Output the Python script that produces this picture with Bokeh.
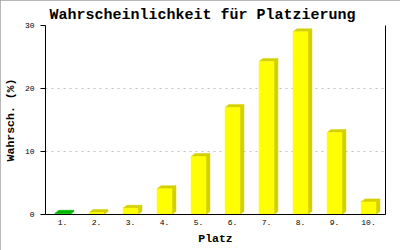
from bokeh.plotting import figure
from bokeh.models import Range1d, FixedTicker, LinearAxis, ColumnDataSource
from bokeh.embed import file_html
from bokeh.resources import INLINE

# ---- data ----
places = [1, 2, 3, 4, 5, 6, 7, 8, 9, 10]
place_labels = ["1.", "2.", "3.", "4.", "5.", "6.", "7.", "8.", "9.", "10."]
probabilities = [0.2, 0.3, 1.0, 4.1, 9.2, 17.0, 24.3, 29.0, 13.0, 2.0]
y_ticks = [0, 10, 20, 30]

title_text = "Wahrscheinlichkeit für Platzierung"
x_title = "Platz"
y_title = "Wahrsch. (%)"

# ---- style ----
W, H = 400, 250
FONT = "Liberation Mono"
bar_w = 0.44          # front face width (category units)
dx = 0.117            # depth offset x (category units ~4px)
dy = 0.476            # depth offset y (value units ~3px)
front_cols = ["#00cc00" if i == 0 else "#ffff00" for i in range(len(places))]
side_cols = ["#00b400" if i == 0 else "#d4d000" for i in range(len(places))]

p = figure(width=W, height=H, x_range=Range1d(0.5, 10.5), y_range=Range1d(0, 30),
           output_backend="svg", toolbar_location=None,
           min_border_left=43, min_border_right=15, min_border_top=25, min_border_bottom=36)
p.styles = {"outline": "1px solid #a0a0a0", "outline-offset": "-1px"}
p.background_fill_color = "white"
p.border_fill_color = "white"
p.outline_line_color = None

# 3D side and top faces
side_xs, side_ys, top_xs, top_ys = [], [], [], []
for x, v in zip(places, probabilities):
    xl, xr = x - bar_w / 2, x + bar_w / 2
    side_xs.append([xr, xr + dx, xr + dx, xr])
    side_ys.append([0, dy, v + dy, v])
    top_xs.append([xl, xl + dx, xr + dx, xr])
    top_ys.append([v, v + dy, v + dy, v])

p.patches(xs=side_xs, ys=side_ys, fill_color=side_cols, line_color=side_cols, line_width=0.5)
p.patches(xs=top_xs, ys=top_ys, fill_color=side_cols, line_color=side_cols, line_width=0.5)

src = ColumnDataSource(dict(x=places, top=probabilities, c=front_cols))
p.vbar(x="x", top="top", bottom=0, width=bar_w, source=src, fill_color="c", line_color="c", line_width=0.5)

# grid
p.xgrid.grid_line_color = None
p.ygrid.grid_line_color = "#c0c0c0"
p.ygrid.grid_line_dash = "2 4"
p.ygrid.ticker = FixedTicker(ticks=[10, 20, 30])

# x axis
xa = p.xaxis[0]
xa.ticker = FixedTicker(ticks=places)
xa.major_label_overrides = {x: l for x, l in zip(places, place_labels)}
xa.major_tick_out = 0
xa.major_tick_in = 0
xa.minor_tick_out = 0
xa.minor_tick_in = 0
xa.major_label_standoff = 5
xa.axis_label = x_title
xa.axis_label_standoff = 4
xa.axis_line_color = "black"

# y axis
ya = p.yaxis[0]
ya.ticker = FixedTicker(ticks=y_ticks)
ya.major_tick_out = 5
ya.major_tick_in = 0
ya.minor_tick_out = 0
ya.minor_tick_in = 0
ya.major_label_standoff = 6
ya.axis_label = y_title
ya.axis_label_standoff = 5
ya.axis_line_color = "black"

for ax in (xa, ya):
    ax.major_label_text_font = FONT
    ax.major_label_text_font_size = "8px"
    ax.major_label_text_color = "black"
    ax.axis_label_text_font = FONT
    ax.axis_label_text_font_size = "11.5px"
    ax.axis_label_text_font_style = "bold"
    ax.axis_label_text_color = "black"
    ax.major_tick_line_color = "black"

# right line
ra = LinearAxis(ticker=FixedTicker(ticks=[]), major_tick_out=0, major_tick_in=0,
                minor_tick_out=0, minor_tick_in=0, axis_line_color="black")
p.add_layout(ra, "right")

# title
p.title.text = title_text
p.title.text_font = FONT
p.title.text_font_size = "15px"
p.title.text_font_style = "bold"
p.title.text_color = "black"
p.title.align = "left"
p.title.offset = 4
p.title.standoff = 4

open("out.html", "w").write(file_html(p, INLINE))
